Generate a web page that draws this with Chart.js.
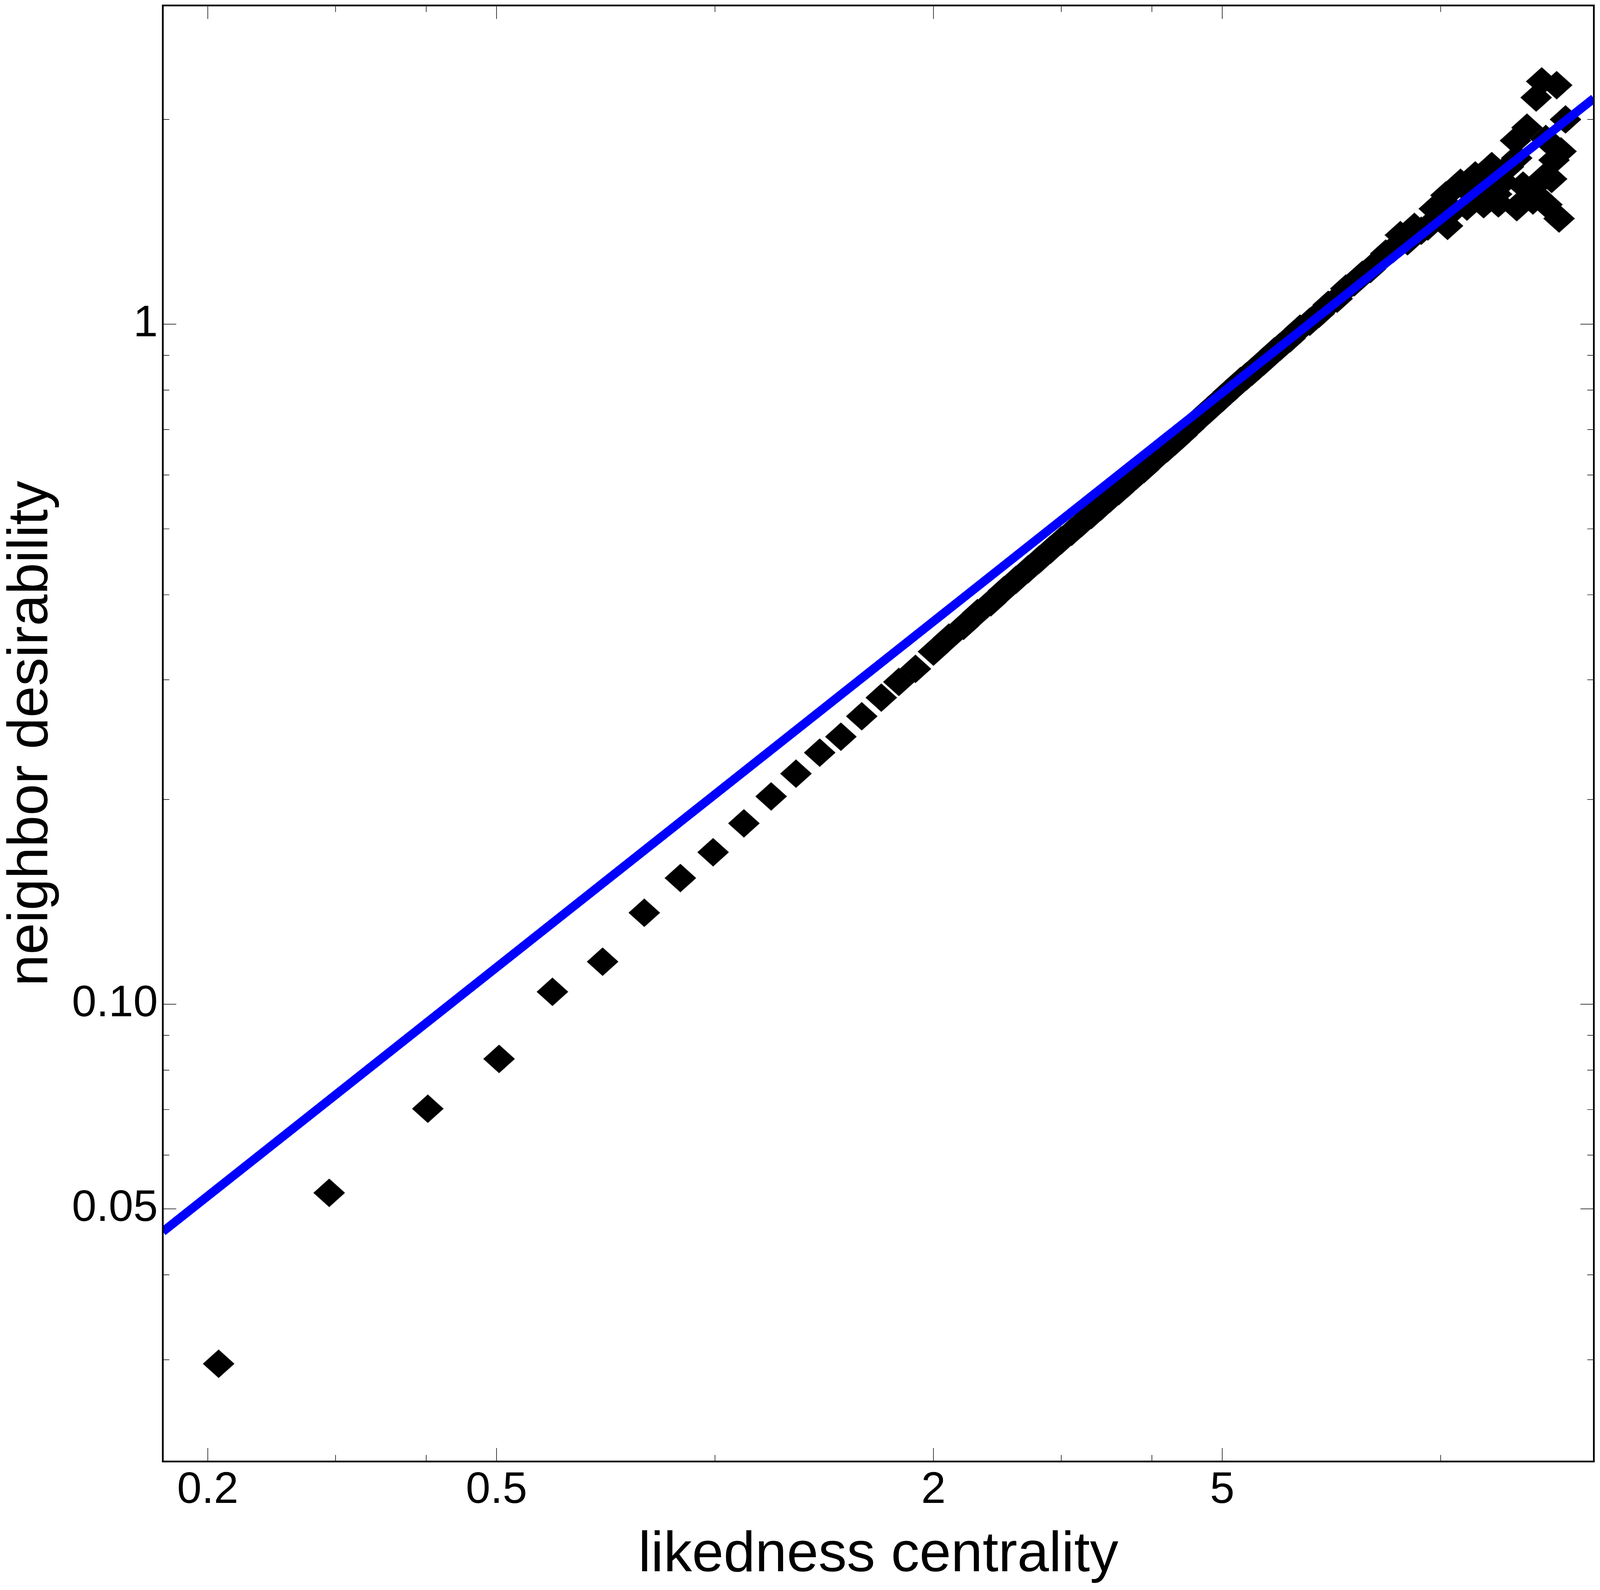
<!DOCTYPE html>
<html>
<head>
<meta charset="utf-8">
<title>neighbor desirability vs likedness centrality</title>
<script src="https://cdn.jsdelivr.net/npm/chart.js@4.4.1/dist/chart.umd.min.js"></script>
<style>
    html, body { margin: 0; padding: 0; background: #ffffff; overflow: hidden; }
    #wrap { position: relative; width: 100vw; height: 100vh; }
    canvas { display: block; }
</style>
</head>
<body>
<div id="wrap"><canvas id="myChart"></canvas></div>
<script>
// values
const likednessX = [
    0.207, 0.294, 0.402, 0.504, 0.597, 0.700, 0.799, 0.896, 0.994, 1.096,
    1.195, 1.293, 1.394, 1.491, 1.593, 1.695, 1.792, 1.889,
    2.0, 2.1, 2.2, 2.3, 2.4, 2.5, 2.6, 2.7, 2.8, 2.9,
    3.0, 3.1, 3.2, 3.3, 3.4, 3.5, 3.6, 3.7, 3.8, 3.9,
    4.0, 4.1, 4.2, 4.3, 4.4, 4.5, 4.6, 4.7, 4.8, 4.9,
    5.0, 5.1, 5.2, 5.3, 5.4, 5.5, 5.6, 5.7, 5.8, 5.9,
    6.0, 6.1, 6.2, 6.4, 6.6, 6.8, 7.0, 7.2, 7.4, 7.6,
    7.8, 8.0, 8.2, 8.4, 8.6, 8.8, 9.0, 9.2, 9.4, 9.6,
    9.8, 10.0, 10.17, 10.22, 10.4, 10.65, 10.87, 11.0, 11.16, 11.3,
    11.46, 11.6, 11.76, 11.94, 12.01, 12.2, 12.4, 12.68, 12.73, 12.73,
    12.99, 13.15, 13.4, 13.54, 13.59, 13.78, 13.89, 13.96, 14.01, 14.22,
    14.33, 14.45, 14.56, 14.65, 14.86
];
const desirabilityY = [
    0.0296, 0.0528, 0.0702, 0.0831, 0.1043, 0.1155, 0.1363, 0.1533, 0.1673, 0.1845,
    0.2021, 0.2183, 0.2344, 0.2474, 0.2651, 0.2824, 0.2978, 0.3113,
    0.330, 0.346, 0.360, 0.376, 0.390, 0.406, 0.421, 0.436, 0.451, 0.466,
    0.481, 0.495, 0.510, 0.524, 0.539, 0.554, 0.568, 0.583, 0.598, 0.612,
    0.628, 0.643, 0.657, 0.672, 0.687, 0.703, 0.719, 0.734, 0.749, 0.764,
    0.779, 0.795, 0.809, 0.825, 0.838, 0.852, 0.867, 0.881, 0.896, 0.912,
    0.925, 0.940, 0.953, 0.985, 1.008, 1.036, 1.068, 1.090, 1.128, 1.152,
    1.182, 1.205, 1.236, 1.270, 1.290, 1.352, 1.324, 1.390, 1.372, 1.392,
    1.478, 1.440, 1.547, 1.395, 1.470, 1.614, 1.489, 1.560, 1.655, 1.531,
    1.501, 1.600, 1.708, 1.553, 1.505, 1.620, 1.704, 1.862, 1.486, 1.755,
    1.599, 1.945, 1.520, 2.154, 1.543, 2.275, 1.645, 1.872, 1.499, 1.635,
    1.743, 2.246, 1.430, 1.795, 2.000
];

// fitted power law, its two ends at the frame
const fitX = [0.1734, 16.26];
const fitY = [0.0463, 2.148];

const xTickValues = [0.2, 0.3, 0.4, 0.5, 1, 2, 3, 4, 5, 10];
const xTickLabels = ['0.2', '', '', '0.5', '', '2', '', '', '5', ''];
const yTickValues = [0.03, 0.04, 0.05, 0.06, 0.07, 0.08, 0.09, 0.1, 0.2, 0.3, 0.4, 0.5, 0.6, 0.7, 0.8, 0.9, 1, 2];
const yTickLabels = ['', '', '0.05', '', '', '', '', '0.10', '', '', '', '', '', '', '', '', '1', ''];

const fontFamily = "'Liberation Sans', Arial, sans-serif";

// sizes below are laid out for a 4167 x 4071 page and scaled to the real window
const kx = window.innerWidth / 4167;
const ky = window.innerHeight / 4071;
const k = Math.min(kx, ky);

function makeDiamond() {
    const w = Math.round(82 * kx);
    const h = Math.round(73 * ky);
    const c = document.createElement('canvas');
    c.width = w;
    c.height = h;
    const g = c.getContext('2d');
    g.fillStyle = '#000000';
    g.beginPath();
    g.moveTo(w / 2, 0);
    g.lineTo(w, h / 2);
    g.lineTo(w / 2, h);
    g.lineTo(0, h / 2);
    g.closePath();
    g.fill();
    return c;
}

// frame and inward tick marks on all four sides
const framePlugin = {
    id: 'frame',
    afterDatasetsDraw(chart) {
        const ctx = chart.ctx;
        const a = chart.chartArea;
        const xs = chart.scales.x;
        const ys = chart.scales.y;
        const longTick = 35 * k;
        const shortTick = 17 * k;
        ctx.save();
        ctx.strokeStyle = '#000000';
        ctx.lineWidth = 1.5 * k;
        xTickValues.forEach(function(v, i) {
            const px = xs.getPixelForValue(v);
            const len = xTickLabels[i] ? longTick : shortTick;
            ctx.beginPath();
            ctx.moveTo(px, a.bottom);
            ctx.lineTo(px, a.bottom - len);
            ctx.moveTo(px, a.top);
            ctx.lineTo(px, a.top + len);
            ctx.stroke();
        });
        yTickValues.forEach(function(v, i) {
            const py = ys.getPixelForValue(v);
            const len = yTickLabels[i] ? longTick : shortTick;
            ctx.beginPath();
            ctx.moveTo(a.left, py);
            ctx.lineTo(a.left + len, py);
            ctx.moveTo(a.right, py);
            ctx.lineTo(a.right - len, py);
            ctx.stroke();
        });
        ctx.lineWidth = 4.5 * k;
        ctx.strokeRect(a.left, a.top, a.right - a.left, a.bottom - a.top);
        ctx.restore();
    }
};

const points = likednessX.map((x, i) => ({ x: x, y: desirabilityY[i] }));
const fitLine = fitX.map((x, i) => ({ x: x, y: fitY[i] }));

const ctx = document.getElementById('myChart').getContext('2d');

new Chart(ctx, {
    type: 'scatter',
    data: {
        datasets: [
            {
                label: 'fit',
                data: fitLine,
                showLine: true,
                borderColor: '#0000ff',
                borderWidth: 23 * k,
                pointRadius: 0,
                fill: false,
                clip: 0,
                order: 0
            },
            {
                label: 'data',
                data: points,
                pointStyle: makeDiamond(),
                pointRadius: 41 * k,
                backgroundColor: '#000000',
                borderColor: '#000000',
                order: 1
            }
        ]
    },
    options: {
        responsive: true,
        maintainAspectRatio: false,
        animation: false,
        events: [],
        layout: {
            autoPadding: false,
            padding: { left: 0, top: 14 * ky, right: 16 * kx, bottom: 0 }
        },
        plugins: {
            legend: { display: false },
            tooltip: { enabled: false }
        },
        scales: {
            x: {
                type: 'logarithmic',
                min: 0.1734,
                max: 16.26,
                bounds: 'data',
                afterBuildTicks: function(scale) {
                    scale.ticks = xTickValues.map(v => ({ value: v }));
                },
                afterFit: function(scale) {
                    scale.height = 329 * ky;
                    scale.paddingLeft = 0;
                    scale.paddingRight = 0;
                },
                grid: { display: false, drawTicks: false },
                border: { display: false },
                ticks: {
                    autoSkip: false,
                    maxRotation: 0,
                    padding: 7 * ky,
                    color: '#000000',
                    font: { family: fontFamily, size: 115 * k },
                    callback: function(value, index) {
                        return xTickLabels[index] || null;
                    }
                },
                title: {
                    display: true,
                    text: 'likedness centrality',
                    color: '#000000',
                    font: { family: fontFamily, size: 148 * k, lineHeight: 1 },
                    padding: { top: 0, bottom: 15 * ky }
                }
            },
            y: {
                type: 'logarithmic',
                min: 0.02126,
                max: 2.942,
                bounds: 'data',
                afterBuildTicks: function(scale) {
                    scale.ticks = yTickValues.map(v => ({ value: v }));
                },
                afterFit: function(scale) {
                    scale.width = 424 * kx;
                    scale.paddingTop = 0;
                    scale.paddingBottom = 0;
                },
                grid: { display: false, drawTicks: false },
                border: { display: false },
                ticks: {
                    autoSkip: false,
                    padding: 13 * kx,
                    color: '#000000',
                    font: { family: fontFamily, size: 115 * k },
                    callback: function(value, index) {
                        return yTickLabels[index] || null;
                    }
                },
                title: {
                    display: true,
                    text: 'neighbor desirability',
                    color: '#000000',
                    font: { family: fontFamily, size: 148 * k, lineHeight: 1 },
                    padding: { top: 8 * kx, bottom: 0 }
                }
            }
        }
    },
    plugins: [framePlugin]
});
</script>
</body>
</html>
